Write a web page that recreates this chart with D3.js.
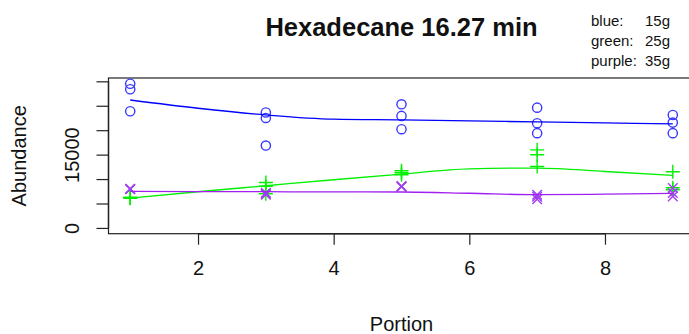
<!DOCTYPE html>
<html>
<head>
<meta charset="utf-8">
<script src="https://cdn.jsdelivr.net/npm/d3@7"></script>
<style>
  body { margin: 0; background: #fff; }
  svg { display: block; font-family: "Liberation Sans", Arial, sans-serif; }
</style>
</head>
<body>
<div id="chart"></div>
<script>
// replicate measurements per portion (3 each)
var portions = [1, 3, 5, 7, 9];
var blue15 = [[29500, 28380, 23880], [23630, 22510, 16860], [25300, 22920, 20200], [24610, 21430, 19390], [23120, 21550, 19390]];
var green25 = [[6050, 6180, 6300], [9300, 8530, 7000], [11700, 11290, 10880], [15980, 14960, 12570], [11490, 8220, 7820]];
var purple35 = [[7900, 7960, 8020], [7200, 7000, 6800], [8420, 8490, 8560], [6800, 6390, 5880], [8160, 7140, 6450]];

// smoothed fits read at each portion
var fitPortions = [1, 2, 3, 4, 5, 6, 7, 8, 9];
var blueFit = [26180, 24490, 23120, 22250, 22100, 21900, 21690, 21490, 21290];
var greenFit = [6120, 7400, 8630, 9860, 11020, 12100, 12250, 11550, 10740];
var purpleFit = [7470, 7450, 7410, 7370, 7350, 7100, 6800, 6900, 7060];

var xTicks = [2, 4, 6, 8];
var yTicks = [0, 5000, 10000, 15000, 20000, 25000, 30000];
var yLabelled = [0, 15000];
var legendNames = ["blue:", "green:", "purple:"];
var legendValues = ["15g", "25g", "35g"];

function drawChart() {
  var width = 689, height = 334;
  // plot region (right edge falls outside the picture, as in the original)
  var pLeft = 108.5, pRight = 694.5, pTop = 78, pBottom = 233.7;

  var svg = d3.select("#chart").append("svg")
    .attr("width", width)
    .attr("height", height);

  // R style 4% padding on both sides
  var xr = [1, 9], xpad = (xr[1] - xr[0]) * 0.04;
  var x = d3.scaleLinear().domain([xr[0] - xpad, xr[1] + xpad]).range([pLeft, pRight]);
  var ymax = d3.max(blue15.flat()), ypad = ymax * 0.04;
  var y = d3.scaleLinear().domain([-ypad, ymax + ypad]).range([pBottom, pTop]);

  // box
  svg.append("rect")
    .attr("x", pLeft).attr("y", pTop)
    .attr("width", pRight - pLeft).attr("height", pBottom - pTop)
    .style("fill", "none").style("stroke", "#222").style("stroke-width", 1.2);

  // axes
  var xAxis = svg.append("g")
    .attr("transform", "translate(0," + pBottom + ")")
    .call(d3.axisBottom(x).tickValues(xTicks).tickSize(11).tickPadding(16).tickFormat(d3.format("d")));
  xAxis.select(".domain").attr("d", "M" + x(2) + ",0H" + x(8)).style("stroke", "#222").style("stroke-width", 1.4);
  xAxis.selectAll(".tick line").style("stroke", "#222").style("stroke-width", 1.2);
  xAxis.selectAll("text").style("font-size", "20px").style("fill", "#111");

  var yAxis = svg.append("g")
    .attr("transform", "translate(" + pLeft + ",0)")
    .call(d3.axisLeft(y).tickValues(yTicks).tickSize(12).tickFormat(function(d) { return yLabelled.indexOf(d) >= 0 ? d : ""; }));
  yAxis.select(".domain").attr("d", "M0," + y(0) + "V" + y(30000)).style("stroke", "#222").style("stroke-width", 1.4);
  yAxis.selectAll(".tick line").style("stroke", "#222").style("stroke-width", 1.2);
  yAxis.selectAll("text")
    .attr("x", null).attr("dy", null)
    .attr("transform", "translate(-30,0) rotate(-90)")
    .style("text-anchor", "middle")
    .style("font-size", "20px").style("fill", "#111");

  // titles
  svg.append("text")
    .attr("x", (pLeft + pRight) / 2).attr("y", 36)
    .style("text-anchor", "middle").style("font-weight", "bold").style("font-size", "25.5px")
    .style("fill", "#111")
    .text("Hexadecane 16.27 min");

  svg.append("text")
    .attr("x", (pLeft + pRight) / 2).attr("y", 331)
    .style("text-anchor", "middle").style("font-size", "20px").style("fill", "#111")
    .text("Portion");

  svg.append("text")
    .attr("transform", "translate(26," + (pTop + pBottom) / 2 + ") rotate(-90)")
    .style("text-anchor", "middle").style("font-size", "20px").style("fill", "#111")
    .text("Abundance");

  // legend text at top right
  var legend = svg.append("g").style("font-size", "15px").style("fill", "#111");
  legend.selectAll(".lname").data(legendNames).enter().append("text")
    .attr("x", 591).attr("y", function(d, i) { return 26 + i * 20; })
    .text(function(d) { return d; });
  legend.selectAll(".lval").data(legendValues).enter().append("text")
    .attr("x", 645).attr("y", function(d, i) { return 26 + i * 20; })
    .text(function(d) { return d; });

  // fitted lines
  var line = d3.line()
    .x(function(d) { return x(d[0]); })
    .y(function(d) { return y(d[1]); })
    .curve(d3.curveMonotoneX);

  var series = [
    {reps: blue15, fit: blueFit, color: "#0000ff", pt: "#3838ff", shape: "circle"},
    {reps: green25, fit: greenFit, color: "#00f000", pt: "#00f000", shape: "plus"},
    {reps: purple35, fit: purpleFit, color: "#a020f0", pt: "#a040f0", shape: "cross"}
  ];

  function flatten(reps) {
    var out = [];
    reps.forEach(function(r, i) { r.forEach(function(v) { out.push([portions[i], v]); }); });
    return out;
  }

  series.forEach(function(s) {
    var pts = flatten(s.reps);
    var g = svg.append("g");
    if (s.shape === "circle") {
      g.selectAll("circle").data(pts).enter().append("circle")
        .attr("cx", function(d) { return x(d[0]); })
        .attr("cy", function(d) { return y(d[1]); })
        .attr("r", 4.6)
        .style("fill", "none").style("stroke", s.pt).style("stroke-width", 1.4);
    } else {
      var h = s.shape === "plus" ? 7 : 4.8;
      g.selectAll("path").data(pts).enter().append("path")
        .attr("d", function(d) {
          var cx = x(d[0]), cy = y(d[1]);
          if (s.shape === "plus") return "M" + (cx - h) + "," + cy + "H" + (cx + h) + "M" + cx + "," + (cy - h) + "V" + (cy + h);
          return "M" + (cx - h) + "," + (cy - h) + "L" + (cx + h) + "," + (cy + h) + "M" + (cx - h) + "," + (cy + h) + "L" + (cx + h) + "," + (cy - h);
        })
        .style("fill", "none").style("stroke", s.pt).style("stroke-width", 1.4);
    }
    svg.append("path")
      .datum(fitPortions.map(function(p, i) { return [p, s.fit[i]]; }))
      .attr("d", line)
      .style("fill", "none").style("stroke", s.color).style("stroke-width", 1.3);
  });
}

drawChart();
</script>
</body>
</html>
